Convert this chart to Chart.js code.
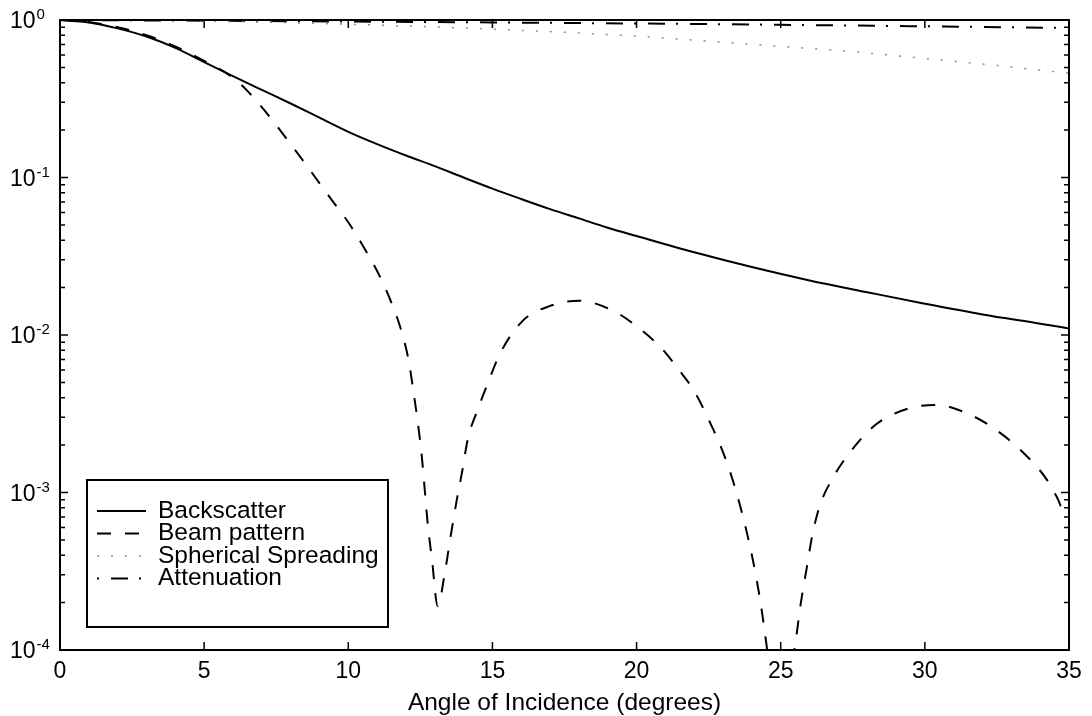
<!DOCTYPE html>
<html>
<head>
<meta charset="utf-8">
<title>Angle of incidence losses</title>
<script src="https://cdn.jsdelivr.net/npm/chart.js@4.4.0/dist/chart.umd.min.js"></script>
<style>
  html, body { margin: 0; padding: 0; background: #fff; }
  #wrap { width: 1092px; height: 716px; }
</style>
</head>
<body>
<div id="wrap"><canvas id="chart" width="1092" height="716"></canvas></div>
<script>
// Backscatter (solid)
const backscatterAngles = [0, 1, 2, 3, 4, 5, 6, 7, 8, 9, 10, 11, 12, 13, 14, 15, 16, 17, 18, 19, 20, 22, 24, 26, 28, 30, 32, 34, 35];
const backscatterValues = [1.0, 0.965, 0.885, 0.785, 0.665, 0.54, 0.44, 0.36, 0.295, 0.24, 0.195, 0.163, 0.138, 0.118, 0.1, 0.085, 0.073, 0.063, 0.055, 0.048, 0.0425, 0.0335, 0.027, 0.0222, 0.0187, 0.0158, 0.0135, 0.0118, 0.011];

// Beam pattern (dashed)
const beamAngles = [0, 1, 2, 3, 4, 5, 6, 6.5, 7, 7.5, 8, 8.5, 9, 9.5, 10, 10.5, 11, 11.5, 11.85, 12.1, 12.25, 12.41, 12.55, 12.66, 12.76, 12.9, 13.1, 13.35, 13.56, 13.77, 13.95, 14.15, 14.5, 14.85, 15.26, 16.05, 17, 18, 19.2, 20.1, 20.9, 21.5, 22, 22.5, 23, 23.5, 24, 24.3, 24.6, 25, 25.4, 25.55, 25.7, 25.9, 26.1, 26.35, 26.8, 27.4, 28.3, 29.4, 30.4, 31.6, 32.6, 33.4, 34.2, 34.6, 34.8, 35];
const beamValues = [1.0, 0.97, 0.9, 0.8, 0.68, 0.55, 0.43, 0.355, 0.28, 0.215, 0.163, 0.123, 0.092, 0.069, 0.052, 0.037, 0.0255, 0.016, 0.0105, 0.0068, 0.0045, 0.0028, 0.0017, 0.001, 0.00062, 0.00038, 0.00019, 0.00031, 0.00054, 0.00091, 0.00136, 0.0022, 0.0034, 0.005, 0.0076, 0.0123, 0.0153, 0.0165, 0.0142, 0.011, 0.0081, 0.0059, 0.0044, 0.0029, 0.0018, 0.00095, 0.0004, 0.0002, 0.00008, 0.00002, 0.00008, 0.000125, 0.0002, 0.00033, 0.00054, 0.00082, 0.00123, 0.0018, 0.0027, 0.0034, 0.0036, 0.0031, 0.0024, 0.0018, 0.00123, 0.00092, 0.00078, 0.00082];

// Spherical spreading (dotted)
const spreadingAngles = [0, 5, 10, 15, 20, 22, 25, 27, 30, 32, 34, 35];
const spreadingValues = [1.0, 0.985, 0.94, 0.875, 0.79, 0.745, 0.68, 0.64, 0.57, 0.525, 0.48, 0.46];

// Attenuation (dash-dot)
const attenuationAngles = [0, 5, 10, 15, 20, 25, 30, 35];
const attenuationValues = [1.0, 0.99, 0.978, 0.965, 0.95, 0.932, 0.912, 0.89];

const xTickValues = [0, 5, 10, 15, 20, 25, 30, 35];
const yDecades = [1e-4, 1e-3, 1e-2, 1e-1, 1];
const yExponents = [-4, -3, -2, -1, 0];

const FONT = "'Liberation Sans', Arial, Helvetica, sans-serif";

function toPoints(xs, ys) {
    return xs.map((x, i) => ({ x: x, y: ys[i] }));
}

// Box around the axes, inward ticks on all four sides, 10^n labels and the legend
const matlabFrame = {
    id: 'matlabFrame',
    afterDraw(chart) {
        const { ctx, chartArea: a, scales: { x, y } } = chart;
        ctx.save();
        ctx.setLineDash([]);
        ctx.strokeStyle = '#000';
        ctx.lineWidth = 2;
        ctx.strokeRect(a.left, a.top, a.right - a.left, a.bottom - a.top);

        ctx.lineWidth = 1.5;
        ctx.beginPath();
        xTickValues.forEach(v => {
            const px = x.getPixelForValue(v);
            ctx.moveTo(px, a.bottom); ctx.lineTo(px, a.bottom - 8);
            ctx.moveTo(px, a.top); ctx.lineTo(px, a.top + 8);
        });
        yDecades.forEach(d => {
            for (let m = 1; m <= 9; m++) {
                const v = d * m;
                if (v > 1.0001) break;
                const py = y.getPixelForValue(v);
                const len = m === 1 ? 8 : 5;
                ctx.moveTo(a.left, py); ctx.lineTo(a.left + len, py);
                ctx.moveTo(a.right, py); ctx.lineTo(a.right - len, py);
            }
        });
        ctx.stroke();

        // y labels: "10" with a raised exponent
        ctx.fillStyle = '#000';
        yDecades.forEach((d, i) => {
            const py = y.getPixelForValue(d);
            ctx.font = '23px ' + FONT;
            ctx.textAlign = 'left';
            ctx.textBaseline = 'middle';
            ctx.fillText('10', 10, py + 2);
            const w = ctx.measureText('10').width;
            ctx.font = '15px ' + FONT;
            ctx.textBaseline = 'alphabetic';
            ctx.fillText(String(yExponents[i]), 10 + w + 1, py - 1);
        });

        // legend
        const box = { left: a.left + 27, top: a.top + 460, width: 301, height: 147 };
        ctx.fillStyle = '#fff';
        ctx.fillRect(box.left, box.top, box.width, box.height);
        ctx.lineWidth = 2;
        ctx.strokeStyle = '#000';
        ctx.strokeRect(box.left, box.top, box.width, box.height);
        chart.data.datasets.forEach((ds, i) => {
            const cy = box.top + 31 + i * 22.5;
            ctx.save();
            ctx.strokeStyle = ds.borderColor;
            ctx.lineWidth = ds.borderWidth;
            ctx.setLineDash(ds.borderDash || []);
            ctx.lineDashOffset = ds.legendDashOffset || 0;
            ctx.beginPath();
            ctx.moveTo(box.left + 10, cy);
            ctx.lineTo(box.left + 59, cy);
            ctx.stroke();
            ctx.restore();
            ctx.fillStyle = '#000';
            ctx.font = '24.5px ' + FONT;
            ctx.textAlign = 'left';
            ctx.textBaseline = 'middle';
            ctx.fillText(ds.label, box.left + 71, cy);
        });
        ctx.restore();
    }
};

const lineDefaults = {
    pointRadius: 0,
    fill: false,
    cubicInterpolationMode: 'monotone'
};

new Chart(document.getElementById('chart'), {
    type: 'line',
    data: {
        datasets: [
            Object.assign({
                label: 'Backscatter',
                data: toPoints(backscatterAngles, backscatterValues),
                borderColor: '#000',
                borderWidth: 2
            }, lineDefaults),
            Object.assign({
                label: 'Beam pattern',
                data: toPoints(beamAngles, beamValues),
                borderColor: '#000',
                borderWidth: 2,
                borderDash: [14, 14]
            }, lineDefaults),
            Object.assign({
                label: 'Spherical Spreading',
                data: toPoints(spreadingAngles, spreadingValues),
                borderColor: '#8c8c8c',
                borderWidth: 1.5,
                borderDash: [2, 12]
            }, lineDefaults),
            Object.assign({
                label: 'Attenuation',
                data: toPoints(attenuationAngles, attenuationValues),
                borderColor: '#000',
                borderWidth: 2,
                borderDash: [17, 11, 2, 12],
                legendDashOffset: 28
            }, lineDefaults)
        ]
    },
    options: {
        responsive: false,
        animation: false,
        devicePixelRatio: 1,
        layout: { padding: { left: 0, top: 20, right: 23, bottom: 0 } },
        plugins: {
            legend: { display: false },
            tooltip: { enabled: false }
        },
        scales: {
            x: {
                type: 'linear',
                min: 0,
                max: 35,
                grid: { display: false, drawTicks: false },
                border: { display: false },
                ticks: {
                    stepSize: 5,
                    padding: 8,
                    color: '#000',
                    font: { family: FONT, size: 23 }
                },
                title: {
                    display: true,
                    text: 'Angle of Incidence (degrees)',
                    color: '#000',
                    font: { family: FONT, size: 24.5, lineHeight: 1.0 },
                    padding: { top: 0, bottom: 1 }
                },
                afterFit(scale) { scale.height = 66; }
            },
            y: {
                type: 'logarithmic',
                min: 1e-4,
                max: 1,
                grid: { display: false, drawTicks: false },
                border: { display: false },
                ticks: { display: false },
                afterFit(scale) { scale.width = 60; }
            }
        }
    },
    plugins: [matlabFrame]
});
</script>
</body>
</html>
